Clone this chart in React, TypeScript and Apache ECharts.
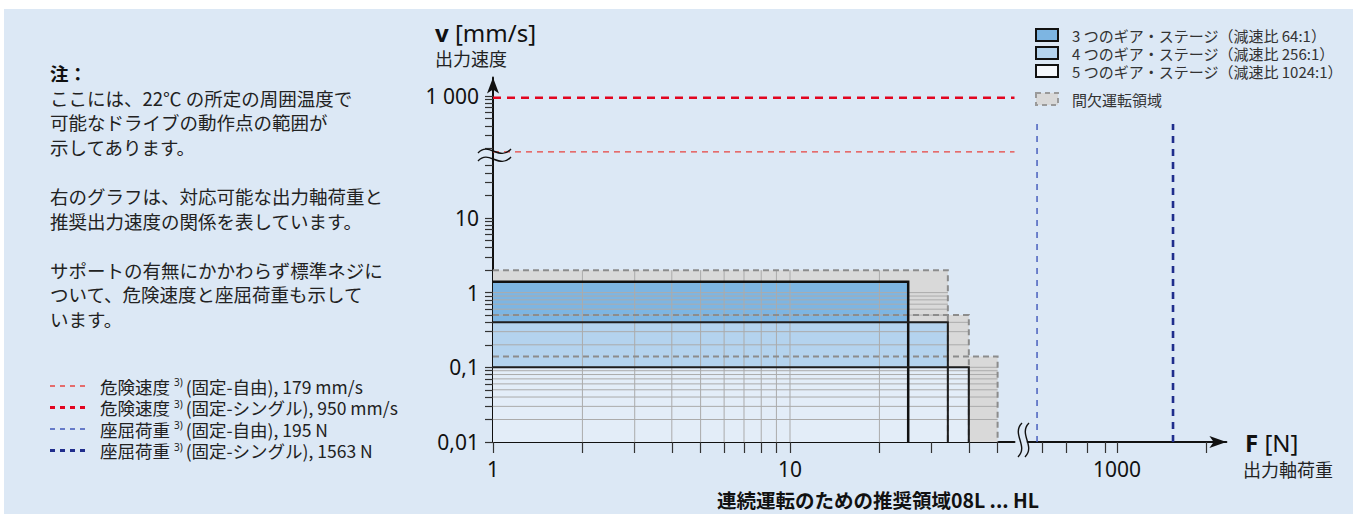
import React, { useEffect, useRef } from "react";
import * as echarts from "echarts";

const LATIN = "'Noto Sans', 'Noto Sans CJK JP', sans-serif";
const CJK = "'Noto Sans CJK JP', 'Noto Sans', sans-serif";

// ---------- data ----------
const stageNames = [
  "3 つのギア・ステージ（減速比 64:1）",
  "4 つのギア・ステージ（減速比 256:1）",
  "5 つのギア・ステージ（減速比 1024:1）",
];
const stageMaxForce = [25, 34, 40];
const stageMaxSpeed = [1.4, 0.4, 0.1];
const intermittentName = "間欠運転領域";
const intermittentMaxForce = [34, 40, 50];
const intermittentMaxSpeed = [2, 0.5, 0.14];
const criticalSpeeds = [179, 950];
const bucklingLoads = [195, 1563];
const limitNames = ["危険速度", "危険速度", "座屈荷重", "座屈荷重"];
const limitMounts = ["固定-自由", "固定-シングル", "固定-自由", "固定-シングル"];
const limitUnits = ["mm/s", "mm/s", "N", "N"];

const forceTicksLow = [1, 2, 3, 4, 5, 6, 7, 8, 9, 10, 20, 30, 40, 50];
const forceLabelsLow = [1, 10];
const forceTicksHigh = [250, 490, 700, 880, 1000, 1900];
const forceLabelsHigh = [1000];
const forceGrid = [2, 3, 4, 5, 6, 7, 8, 9, 10, 20];
const speedTicksLow = [
  0.01, 0.02, 0.03, 0.04, 0.05, 0.06, 0.07, 0.08, 0.09,
  0.1, 0.2, 0.3, 0.4, 0.5, 0.6, 0.7, 0.8, 0.9,
  1, 2, 3, 4, 5, 6, 7, 8, 9, 10, 20, 30, 40, 50,
];
const speedTicksHigh = [200, 300, 400, 500, 600, 700, 800, 900, 1000];
const speedLabelValues = [0.01, 0.1, 1, 10, 1000];
const speedLabelTexts = ["0,01", "0,1", "1", "10", "1 000"];
const speedGrid = [
  0.02, 0.03, 0.04, 0.05, 0.06, 0.07, 0.08, 0.09, 0.1,
  0.2, 0.3, 0.4, 0.5, 0.6, 0.7, 0.8, 0.9, 1,
];

const noteTitle = "注：";
const noteLines = [
  "ここには、22℃ の所定の周囲温度で",
  "可能なドライブの動作点の範囲が",
  "示してあります。",
  "",
  "右のグラフは、対応可能な出力軸荷重と",
  "推奨出力速度の関係を表しています。",
  "",
  "サポートの有無にかかわらず標準ネジに",
  "ついて、危険速度と座屈荷重も示して",
  "います。",
];
const vAxisUnit = " [mm/s]";
const vAxisName = "出力速度";
const fAxisUnit = " [N]";
const fAxisName = "出力軸荷重";
const bottomTitle = "連続運転のための推奨領域08L ... HL";

// ---------- layout / style ----------
const W = 1357;
const H = 522;
const F_MIN = 1;
const F_MAX_LOW = 57;
const F_MIN_HIGH = 100;
const F_MAX_HIGH = 2100;
const V_MIN = 0.01;
const V_MAX_LOW = 60;
const V_MIN_HIGH = 141;
const V_MAX_HIGH = 1770;

const stageFill = ["#7db5e2", "#b4d3ee", "#e3edf8"];
const legendFill = ["#7db5e2", "#b4d3ee", "#f5f8fc"];
const stageBorderWidth = [2.5, 2, 2];
const critColor = ["#e8433f", "#e2051f"];
const critWidth = [1.3, 2.6];
const critDash = [[6, 5], [8, 6]];
const buckColor = ["#3f56b9", "#1f2d8c"];
const buckWidth = [1.4, 2.6];
const buckDash = [[6, 6], [7, 6]];

const fmtSpeed = (v: number) => {
  const i = speedLabelValues.findIndex(
    (s) => Math.abs(Math.log10(s) - Math.log10(v)) < 1e-6
  );
  return i >= 0 ? speedLabelTexts[i] : "";
};

const reach = (v: number) =>
  Math.max(...intermittentMaxForce.filter((_, i) => intermittentMaxSpeed[i] > v));
const zoneTop = (f: number) =>
  Math.max(...intermittentMaxSpeed.filter((_, i) => intermittentMaxForce[i] > f));

const zoneData = intermittentMaxForce.map((f, i) => [f, intermittentMaxSpeed[i]]);
const stageData = stageMaxForce.map((f, i) => [f, stageMaxSpeed[i]]);
const gridData = [
  ...speedGrid.map((v) => [F_MIN, v, reach(v), v]),
  ...forceGrid.map((f) => [f, V_MIN, f, zoneTop(f)]),
];

const box = (api: any, f: number, v: number) => {
  const p0 = api.coord([F_MIN, V_MIN]);
  const p1 = api.coord([f, v]);
  return { x0: p0[0], y0: p0[1], x1: p1[0], y1: p1[1] };
};

const axisLineStyle = { color: "#111", width: 2 };
const tickStyle = { color: "#333", width: 1.2 };

function buildGraphics() {
  const g: any[] = [];
  g.push({
    type: "rect",
    z: -100,
    silent: true,
    shape: { x: 4, y: 9, width: 1349, height: 505 },
    style: { fill: "#dce8f5" },
  });
  const txt = (
    text: string,
    x: number,
    y: number,
    size: number,
    opts: any = {}
  ) => ({
    type: "text",
    z: 100,
    silent: true,
    style: {
      text,
      x,
      y,
      fontSize: size,
      fontFamily: opts.family || CJK,
      fontWeight: opts.weight || "normal",
      fill: opts.fill || "#222",
      align: opts.align || "left",
      textAlign: opts.align || "left",
      verticalAlign: "middle",
      textVerticalAlign: "middle",
      lineHeight: opts.lineHeight,
      rich: opts.rich,
    },
  });
  // axis titles
  g.push(
    txt("{b|v}" + vAxisUnit, 435, 32, 24, {
      family: LATIN,
      fill: "#111",
      rich: { b: { fontWeight: "bold", fontSize: 24, fontFamily: LATIN, fill: "#111" } },
    })
  );
  g.push(txt(vAxisName, 435, 58, 18, { fill: "#222" }));
  g.push(
    txt("{b|F}" + fAxisUnit, 1245, 442, 24, {
      family: LATIN,
      fill: "#111",
      rich: { b: { fontWeight: "bold", fontSize: 24, fontFamily: LATIN, fill: "#111" } },
    })
  );
  g.push(txt(fAxisName, 1243, 469, 18, { fill: "#222" }));
  g.push(
    txt(bottomTitle, 878, 499, 19.5, { weight: "bold", align: "center", fill: "#111" })
  );
  // notes
  g.push(txt(noteTitle, 50, 73, 18.5, { weight: "bold", fill: "#111" }));
  noteLines.forEach((line, i) => {
    if (line) g.push(txt(line, 50, 73 + (i + 1) * 24.6, 18.5, { fill: "#222" }));
  });
  // top-right legend
  const rows = [35, 53, 71];
  stageNames.forEach((name, i) => {
    g.push({
      type: "rect",
      z: 100,
      silent: true,
      shape: { x: 1036, y: rows[i] - 6, width: 22, height: 12 },
      style: { fill: legendFill[i], stroke: "#111", lineWidth: 2 },
    });
    g.push(txt(name, 1072, rows[i], 15, { fill: "#333", lineHeight: 16 }));
  });
  g.push({
    type: "rect",
    z: 100,
    silent: true,
    shape: { x: 1036, y: 99 - 6, width: 22, height: 12 },
    style: { fill: "#d9d9d9", stroke: "#9a9a9a", lineWidth: 2, lineDash: [5, 4] },
  });
  g.push(txt(intermittentName, 1072, 99, 15, { fill: "#333" }));
  // bottom-left legend
  const lrows = [386, 407.5, 429, 450.5];
  const values = [...criticalSpeeds, ...bucklingLoads];
  const colors = [critColor[0], critColor[1], buckColor[0], buckColor[1]];
  const widths = [critWidth[0], critWidth[1], buckWidth[0], buckWidth[1]];
  limitNames.forEach((name, i) => {
    g.push({
      type: "line",
      z: 100,
      silent: true,
      shape: { x1: 50, y1: lrows[i], x2: 88, y2: lrows[i] },
      style: { stroke: colors[i], lineWidth: widths[i] + 0.3, lineDash: [5, 5] },
    });
    g.push(
      txt(
        `${name} {s|3)}(${limitMounts[i]}), ${values[i]} ${limitUnits[i]}`,
        100,
        lrows[i],
        17.5,
        {
          family: CJK,
          fill: "#222",
          lineHeight: 18,
          rich: {
            s: {
              fontSize: 10,
              verticalAlign: "top",
              lineHeight: 18,
              padding: [0, 3, 0, 0],
              fill: "#222",
              fontFamily: LATIN,
            },
          },
        }
      )
    );
  });
  // break marks (y axis)
  [0, 8].forEach((d) => {
    g.push({
      type: "bezierCurve",
      z: 100,
      silent: true,
      shape: { x1: 478, y1: 153 + d, cpx1: 489, cpy1: 141 + d, cpx2: 499, cpy2: 162 + d, x2: 511, y2: 149 + d },
      style: { stroke: "#111", lineWidth: 1.4, fill: "none" },
    });
  });
  // break marks (x axis)
  [0, 7].forEach((d) => {
    g.push({
      type: "bezierCurve",
      z: 100,
      silent: true,
      shape: { x1: 1022 + d, y1: 423, cpx1: 1011 + d, cpy1: 434, cpx2: 1029 + d, cpy2: 446, x2: 1018 + d, y2: 457 },
      style: { stroke: "#111", lineWidth: 1.4, fill: "none" },
    });
  });
  return g;
}

export default function App() {
  const ref = useRef<HTMLDivElement>(null);
  useEffect(() => {
    if (!ref.current) return;
    const chart = echarts.init(ref.current, null, { renderer: "svg", width: W, height: H });
    const option: any = {
      animation: false,
      backgroundColor: "#ffffff",
      textStyle: { fontFamily: LATIN },
      grid: [
        { left: 493, top: 159.8, width: 521.5, height: 282.2, outerBoundsMode: "none" },
        { left: 493, top: 77.5, width: 521.5, height: 82.2, outerBoundsMode: "none" },
        { left: 1027.6, top: 124, width: 198.8, height: 318, outerBoundsMode: "none" },
      ],
      xAxis: [
        {
          type: "log",
          gridIndex: 0,
          min: F_MIN,
          max: F_MAX_LOW,
          logBase: 10,
          axisLine: { show: true, onZero: false, lineStyle: axisLineStyle },
          axisTick: { show: true, customValues: forceTicksLow, length: 11, lineStyle: tickStyle },
          axisLabel: {
            show: true,
            customValues: forceLabelsLow,
            margin: 16,
            fontSize: 21,
            color: "#111",
            fontFamily: LATIN,
            formatter: (v: number) => String(Math.round(v)),
          },
          splitLine: { show: false },
          minorTick: { show: false },
          minorSplitLine: { show: false },
        },
        { type: "log", gridIndex: 1, min: F_MIN, max: F_MAX_LOW, show: false },
        {
          type: "value",
          gridIndex: 2,
          min: F_MIN_HIGH,
          max: F_MAX_HIGH,
          axisLine: {
            show: true,
            onZero: false,
            symbol: ["none", "arrow"],
            symbolSize: [9, 17],
            lineStyle: axisLineStyle,
          },
          axisTick: { show: true, customValues: forceTicksHigh, length: 11, lineStyle: tickStyle },
          axisLabel: {
            show: true,
            customValues: forceLabelsHigh,
            margin: 16,
            fontSize: 21,
            color: "#111",
            fontFamily: LATIN,
            formatter: (v: number) => String(Math.round(v)),
          },
          splitLine: { show: false },
        },
      ],
      yAxis: [
        {
          type: "log",
          gridIndex: 0,
          min: V_MIN,
          max: V_MAX_LOW,
          logBase: 10,
          axisLine: { show: true, onZero: false, lineStyle: axisLineStyle },
          axisTick: { show: true, customValues: speedTicksLow, length: 8, lineStyle: tickStyle },
          axisLabel: {
            show: true,
            customValues: speedLabelValues.filter((v) => v <= V_MAX_LOW),
            margin: 14,
            fontSize: 21,
            color: "#111",
            fontFamily: LATIN,
            formatter: fmtSpeed,
          },
          splitLine: { show: false },
          minorTick: { show: false },
        },
        {
          type: "log",
          gridIndex: 1,
          min: V_MIN_HIGH,
          max: V_MAX_HIGH,
          logBase: 10,
          axisLine: {
            show: true,
            onZero: false,
            symbol: ["none", "arrow"],
            symbolSize: [9, 16],
            lineStyle: axisLineStyle,
          },
          axisTick: { show: true, customValues: speedTicksHigh, length: 8, lineStyle: tickStyle },
          axisLabel: {
            show: true,
            customValues: speedLabelValues.filter((v) => v >= V_MIN_HIGH),
            margin: 14,
            fontSize: 21,
            color: "#111",
            fontFamily: LATIN,
            formatter: fmtSpeed,
          },
          splitLine: { show: false },
        },
        { type: "value", gridIndex: 2, min: 0, max: 1, show: false },
      ],
      graphic: buildGraphics(),
      series: [
        {
          type: "custom",
          name: intermittentName,
          xAxisIndex: 0,
          yAxisIndex: 0,
          z: 1,
          silent: true,
          data: zoneData,
          renderItem: (p: any, api: any) => {
            const b = box(api, api.value(0), api.value(1));
            return {
              type: "rect",
              shape: { x: b.x0, y: b.y1, width: b.x1 - b.x0, height: b.y0 - b.y1 },
              style: { fill: "#d9d9d9" },
            };
          },
        },
        {
          type: "custom",
          name: "stages",
          xAxisIndex: 0,
          yAxisIndex: 0,
          z: 2,
          silent: true,
          data: stageData,
          renderItem: (p: any, api: any) => {
            const b = box(api, api.value(0), api.value(1));
            return {
              type: "rect",
              shape: { x: b.x0, y: b.y1, width: b.x1 - b.x0, height: b.y0 - b.y1 },
              style: { fill: stageFill[p.dataIndex] },
            };
          },
        },
        {
          type: "custom",
          name: "grid",
          xAxisIndex: 0,
          yAxisIndex: 0,
          z: 3,
          silent: true,
          data: gridData,
          encode: { x: [0, 2], y: [1, 3] },
          renderItem: (p: any, api: any) => {
            const a = api.coord([api.value(0), api.value(1)]);
            const c = api.coord([api.value(2), api.value(3)]);
            return {
              type: "line",
              shape: { x1: a[0], y1: a[1], x2: c[0], y2: c[1] },
              style: { stroke: "#ababab", lineWidth: 1 },
            };
          },
        },
        {
          type: "custom",
          name: "zoneBorders",
          xAxisIndex: 0,
          yAxisIndex: 0,
          z: 4,
          silent: true,
          data: zoneData,
          renderItem: (p: any, api: any) => {
            const b = box(api, api.value(0), api.value(1));
            return {
              type: "polyline",
              shape: { points: [[b.x0, b.y1], [b.x1, b.y1], [b.x1, b.y0]] },
              style: { fill: "none", stroke: "#8c8c8c", lineWidth: 2, lineDash: [6, 4] },
            };
          },
        },
        {
          type: "custom",
          name: "stageBorders",
          xAxisIndex: 0,
          yAxisIndex: 0,
          z: 5,
          silent: true,
          data: stageData,
          renderItem: (p: any, api: any) => {
            const b = box(api, api.value(0), api.value(1));
            return {
              type: "polyline",
              shape: { points: [[b.x0, b.y1], [b.x1, b.y1], [b.x1, b.y0]] },
              style: { fill: "none", stroke: p.dataIndex === 0 ? "#111" : "#1e1e1e", lineWidth: stageBorderWidth[p.dataIndex] },
            };
          },
        },
        {
          type: "custom",
          name: "criticalSpeeds",
          xAxisIndex: 1,
          yAxisIndex: 1,
          z: 5,
          silent: true,
          data: criticalSpeeds.map((v) => [F_MIN, v]),
          renderItem: (p: any, api: any) => {
            const a = api.coord([F_MIN, api.value(1)]);
            const c = api.coord([F_MAX_LOW, api.value(1)]);
            const i = p.dataIndex;
            return {
              type: "line",
              shape: { x1: a[0], y1: a[1], x2: c[0], y2: c[1] },
              style: { stroke: critColor[i], lineWidth: critWidth[i], lineDash: critDash[i] },
            };
          },
        },
        {
          type: "custom",
          name: "bucklingLoads",
          xAxisIndex: 2,
          yAxisIndex: 2,
          z: 5,
          silent: true,
          data: bucklingLoads.map((f) => [f, 0]),
          renderItem: (p: any, api: any) => {
            const a = api.coord([api.value(0), 0]);
            const c = api.coord([api.value(0), 1]);
            const i = p.dataIndex;
            return {
              type: "line",
              shape: { x1: a[0], y1: a[1], x2: c[0], y2: c[1] },
              style: { stroke: buckColor[i], lineWidth: buckWidth[i], lineDash: buckDash[i] },
            };
          },
        },
      ],
    };
    chart.setOption(option);
    return () => chart.dispose();
  }, []);
  return (
    <div
      ref={ref}
      style={{ position: "absolute", left: 0, top: 0, width: W, height: H }}
    />
  );
}
